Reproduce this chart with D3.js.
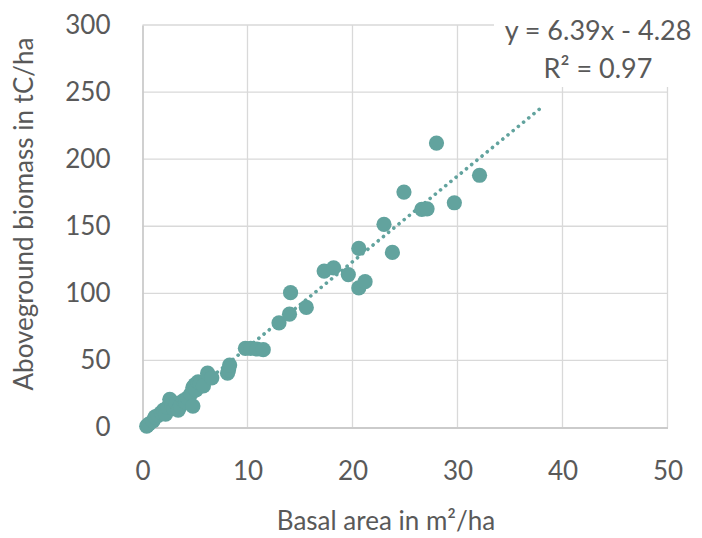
<!DOCTYPE html>
<html>
<head>
<meta charset="utf-8">
<script src="https://cdn.jsdelivr.net/npm/d3@7"></script>
<style>
  body { margin: 0; background: #fff; }
  svg { display: block; }
</style>
</head>
<body>
<svg id="chart"></svg>
<script>
// basal area (m²/ha) and aboveground biomass (tC/ha)
const basalArea = [
  0.4, 0.6, 1.0, 1.2, 1.5, 1.8, 2.0, 2.2, 2.4, 2.6, 2.8, 3.0, 3.2, 3.4, 3.6, 3.9,
  4.1, 4.3, 4.6, 4.8, 4.8, 5.0, 5.1, 5.3, 5.5, 5.8, 6.2, 6.6, 8.1, 8.2, 8.3,
  9.8, 10.3, 10.9, 11.5, 13.0, 14.0, 14.1, 15.6, 17.3, 18.2, 19.6, 20.6, 21.2,
  20.6, 23.0, 23.8, 24.9, 26.6, 27.1, 28.0, 29.7, 32.1
];
const biomass = [
  1, 2.5, 5, 8, 9, 11, 13, 10, 15, 21, 17, 14, 18, 13, 16, 20,
  19, 22, 25, 16, 30, 32, 28, 34, 33, 31, 40.5, 37, 40.5, 43, 46.5,
  59, 59, 58.5, 58, 78, 84.5, 100.5, 89.5, 116.6, 119, 114, 104, 108.7,
  133.5, 151.4, 130.5, 175.5, 162.6, 163, 212, 167.5, 188
];
const xTicks = [0, 10, 20, 30, 40, 50];
const yTicks = [0, 50, 100, 150, 200, 250, 300];
const trendSlope = 6.39;
const trendIntercept = -4.28;
const trendRange = [0.7, 38];
const equationLines = ['y = 6.39x - 4.28', 'R² = 0.97'];

const W = 702, H = 538;
const margin = { top: 25, right: 34.5, bottom: 110.5, left: 142.5 };
const width = W - margin.left - margin.right;
const height = H - margin.top - margin.bottom;
const teal = '#62a39e';
const font = 'Lato, "Open Sans", sans-serif';

const svg = d3.select('#chart').attr('width', W).attr('height', H);
const g = svg.append('g').attr('transform', `translate(${margin.left},${margin.top})`);

const x = d3.scaleLinear().domain([0, 50]).range([0, width]);
const y = d3.scaleLinear().domain([0, 300]).range([height, 0]);

// gridlines
g.append('g')
  .selectAll('line.h')
  .data(yTicks.filter((d) => d > 0))
  .join('line')
  .attr('x1', 0).attr('x2', width)
  .attr('y1', (d) => y(d)).attr('y2', (d) => y(d))
  .attr('stroke', '#d9d9d9').attr('stroke-width', 1.3);

g.append('g')
  .selectAll('line.v')
  .data(xTicks.filter((d) => d > 0))
  .join('line')
  .attr('x1', (d) => x(d)).attr('x2', (d) => x(d))
  .attr('y1', 0).attr('y2', height)
  .attr('stroke', '#d9d9d9').attr('stroke-width', 1.3);

// axes
const xAxis = g.append('g')
  .attr('transform', `translate(0,${height})`)
  .call(d3.axisBottom(x).tickValues(xTicks).tickSize(0).tickPadding(34));
const yAxis = g.append('g')
  .call(d3.axisLeft(y).tickValues(yTicks).tickSize(0).tickPadding(32));

[xAxis, yAxis].forEach((a) => {
  a.select('.domain').attr('stroke', '#cbcbcb').attr('stroke-width', 1.8);
  a.selectAll('text')
    .style('font-family', font)
    .style('font-size', '26px')
    .attr('fill', '#595959');
});

// trendline
const line = d3.line().x((d) => x(d)).y((d) => y(trendSlope * d + trendIntercept));
g.append('path')
  .datum(trendRange)
  .attr('d', line)
  .attr('fill', 'none')
  .attr('stroke', teal)
  .attr('stroke-width', 3.6)
  .attr('stroke-linecap', 'round')
  .attr('stroke-dasharray', '0.1 6.6');

// points
g.append('g')
  .selectAll('circle')
  .data(basalArea.map((d, i) => [d, biomass[i]]))
  .join('circle')
  .attr('cx', (d) => x(d[0]))
  .attr('cy', (d) => y(d[1]))
  .attr('r', 7.6)
  .attr('fill', teal);

// equation label
svg.append('rect')
  .attr('x', 494).attr('y', 4).attr('width', 208).attr('height', 83)
  .attr('fill', '#fff');
svg.append('g')
  .selectAll('text')
  .data(equationLines)
  .join('text')
  .attr('x', 598)
  .attr('y', (d, i) => 40 + i * 38)
  .attr('text-anchor', 'middle')
  .style('font-family', font)
  .style('font-size', '27px')
  .attr('fill', '#595959')
  .text((d) => d);

// axis titles
svg.append('text')
  .attr('x', 386)
  .attr('y', 530)
  .attr('text-anchor', 'middle')
  .style('font-family', font)
  .style('font-size', '26px')
  .attr('fill', '#595959')
  .text('Basal area in m²/ha');

svg.append('text')
  .attr('transform', 'translate(33,214) rotate(-90)')
  .attr('text-anchor', 'middle')
  .style('font-family', font)
  .style('font-size', '26px')
  .attr('fill', '#595959')
  .text('Aboveground biomass in tC/ha');
</script>
</body>
</html>
